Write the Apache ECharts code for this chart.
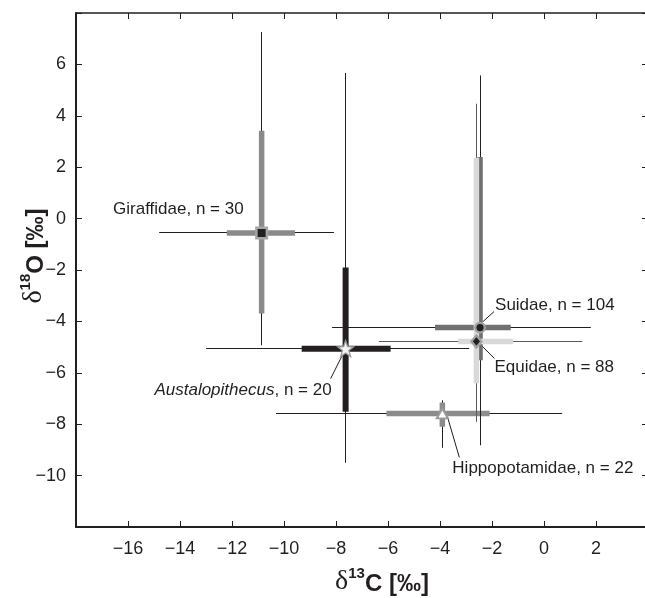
<!DOCTYPE html>
<html>
<head>
<meta charset="utf-8">
<script src="https://cdn.jsdelivr.net/npm/echarts@6/dist/echarts.min.js"></script>
<style>
html,body{margin:0;padding:0;background:#fff;overflow:hidden;}
#chart{width:645px;height:598px;}
</style>
</head>
<body>
<div id="chart"></div>
<script>
// ---------- data ----------
const taxa = ['Giraffidae', 'Austalopithecus', 'Suidae', 'Equidae', 'Hippopotamidae'];
const nCount = [30, 20, 104, 88, 22];
const meanC = [-10.86, -7.63, -2.46, -2.60, -3.91];
const meanO = [-0.56, -5.06, -4.24, -4.78, -7.58];
// thick bars (inner spread)
const spreadCLow  = [-12.20, -9.32, -4.19, -3.30, -6.06];
const spreadCHigh = [-9.58, -5.90, -1.28, -1.19, -2.09];
const spreadOLow  = [-3.69, -7.52, -5.51, -6.41, -8.10];
const spreadOHigh = [3.42, -1.90, 2.40, 2.37, -7.16];
// thin lines (full range)
const rangeCLow  = [-14.80, -13.00, -8.15, -6.35, -10.31];
const rangeCHigh = [-8.08, -2.88, 1.80, 1.47, 0.70];
const rangeOLow  = [-4.93, -9.50, -8.82, -7.91, -8.92];
const rangeOHigh = [7.26, 5.67, 5.57, 4.47, -7.07];
const xTicks = [-16, -14, -12, -10, -8, -6, -4, -2, 0, 2];
const yTicks = [-10, -8, -6, -4, -2, 0, 2, 4, 6];

// ---------- styles ----------
const FONT = "'Liberation Sans', Arial, Helvetica, sans-serif";
const INK = '#231f20';
const thickColor = ['#8a8a8a', '#231f20', '#707070', '#d9d9d9', '#8c8c8c'];
const thinColor  = ['#231f20', '#231f20', '#231f20', '#5a5a5a', '#231f20'];
const thickWidth = [5.5, 6, 5.5, 5.5, 5.5];
const drawOrder = [0, 4, 1, 2, 3];
// label placement relative to marker (pixels): text anchor, align, leader start/end
const labelStyle = [
  {dx: -18, dy: -24, align: 'right', lead: null},
  {dx: -14, dy: 42, align: 'right', lead: [[-3, 6], [-15, 30]]},
  {dx: 15, dy: -22, align: 'left', lead: [[3, -6], [14, -16]]},
  {dx: 18, dy: 26, align: 'left', lead: [[6, 5], [18, 17]]},
  {dx: 10, dy: 55, align: 'left', lead: [[5, 3], [17, 44]]}
];
const markerSymbol = ['rect', 'path://M0,-10 L2.35,-3.24 L9.51,-3.09 L3.8,1.24 L5.88,8.09 L0,4 L-5.88,8.09 L-3.8,1.24 L-9.51,-3.09 L-2.35,-3.24 Z', 'circle', 'diamond', 'triangle'];
const markerSize = [10.5, 16, 9.5, [10, 12], [11, 10]];
const markerFill = ['#231f20', '#f4f4f4', '#231f20', '#231f20', '#ffffff'];
const markerBorder = ['#a5a5a5', '#9a9a9a', '#a0a0a0', '#a0a0a0', '#9a9a9a'];
const markerBorderW = [2.5, 1.3, 2.3, 2.3, 2];

function fmt(v) { return v < 0 ? '\u2212' + Math.abs(v) : String(v); }
function crisp(v) { return Math.round(v - 0.5) + 0.5; }

const series = [];
drawOrder.forEach(function (i) {
  series.push({
    type: 'custom',
    name: taxa[i],
    coordinateSystem: 'cartesian2d',
    silent: true,
    clip: false,
    data: [[meanC[i], meanO[i], rangeCLow[i], rangeCHigh[i], rangeOLow[i], rangeOHigh[i],
            spreadCLow[i], spreadCHigh[i], spreadOLow[i], spreadOHigh[i]]],
    encode: {x: [0, 2, 3], y: [1, 4, 5]},
    renderItem: function (params, api) {
      const mc = api.value(0), mo = api.value(1);
      const c = api.coord([mc, mo]);
      const rl = api.coord([api.value(2), mo]), rh = api.coord([api.value(3), mo]);
      const rb = api.coord([mc, api.value(4)]), rt = api.coord([mc, api.value(5)]);
      const sl = api.coord([api.value(6), mo]), sh = api.coord([api.value(7), mo]);
      const sb = api.coord([mc, api.value(8)]), st = api.coord([mc, api.value(9)]);
      const thin = {stroke: thinColor[i], lineWidth: 1};
      const thick = {stroke: thickColor[i], lineWidth: thickWidth[i], lineCap: 'butt'};
      const ls = labelStyle[i];
      const hy = crisp(c[1]), vx = crisp(c[0]);
      const children = [
        {type: 'line', shape: {x1: rl[0], y1: hy, x2: rh[0], y2: hy}, style: thin},
        {type: 'line', shape: {x1: vx, y1: rb[1], x2: vx, y2: rt[1]}, style: thin},
        {type: 'line', shape: {x1: sl[0], y1: sl[1], x2: sh[0], y2: sh[1]}, style: thick},
        {type: 'line', shape: {x1: sb[0], y1: sb[1], x2: st[0], y2: st[1]}, style: thick}
      ];
      const nameTxt = i === 1 ? '{it|' + taxa[i] + '}, n = ' + nCount[i] : taxa[i] + ', n = ' + nCount[i];
      children.push({
        type: 'text', x: c[0] + ls.dx, y: c[1] + ls.dy,
        style: {text: nameTxt, fill: INK, fontFamily: FONT, fontSize: 17, align: ls.align, verticalAlign: 'middle',
                rich: {it: {fontStyle: 'italic', fontFamily: FONT, fontSize: 17, fill: INK}}}
      });
      if (ls.lead) {
        children.push({type: 'line', shape: {x1: c[0] + ls.lead[0][0], y1: c[1] + ls.lead[0][1], x2: c[0] + ls.lead[1][0], y2: c[1] + ls.lead[1][1]},
                       style: {stroke: INK, lineWidth: 1}});
      }
      return {type: 'group', children: children};
    }
  });
});
for (let i = 0; i < taxa.length; i++) {
  series.push({
    type: 'scatter', name: taxa[i] + ' mean', silent: true, z: 5,
    data: [[meanC[i], meanO[i]]],
    symbol: markerSymbol[i], symbolSize: markerSize[i],
    itemStyle: {color: markerFill[i], borderColor: markerBorder[i], borderWidth: markerBorderW[i], opacity: 1}
  });
}

const axisLineStyle = {color: INK, width: 2};
const titleRich = {
  d: {fontFamily: "'Liberation Serif', 'Times New Roman', serif", fontSize: 28, fill: INK, lineHeight: 30, verticalAlign: 'bottom'},
  s: {fontFamily: FONT, fontSize: 15, fontWeight: 'bold', fill: INK, lineHeight: 30, verticalAlign: 'top'},
  b: {fontFamily: FONT, fontSize: 24, fontWeight: 'bold', fill: INK, lineHeight: 30, verticalAlign: 'bottom'}
};
const chart = echarts.init(document.getElementById('chart'), null, {renderer: 'canvas'});
chart.setOption({
  animation: false,
  backgroundColor: '#ffffff',
  grid: {left: 76, top: 13, width: 572, height: 514, containLabel: false, outerBoundsMode: 'none'},
  xAxis: [
    {type: 'value', min: -18, max: 4, interval: 2, position: 'bottom',
     axisLine: {show: true, onZero: false, lineStyle: axisLineStyle},
     axisTick: {show: true, inside: true, length: 6, lineStyle: {color: INK, width: 1}},
     axisLabel: {show: true, color: INK, fontFamily: FONT, fontSize: 18, margin: 13, hideOverlap: false,
                 formatter: function (v) { return xTicks.indexOf(v) >= 0 ? fmt(v) : ''; }},
     splitLine: {show: false}},
    {type: 'value', min: -18, max: 4, interval: 2, position: 'top',
     axisLine: {show: true, onZero: false, lineStyle: {color: INK, width: 1.5}},
     axisTick: {show: true, inside: true, length: 6, lineStyle: {color: INK, width: 1}},
     axisLabel: {show: false}, splitLine: {show: false}}
  ],
  yAxis: [
    {type: 'value', min: -12, max: 8, interval: 2, position: 'left',
     axisLine: {show: true, onZero: false, lineStyle: axisLineStyle},
     axisTick: {show: true, inside: true, length: 6, lineStyle: {color: INK, width: 1}},
     axisLabel: {show: true, color: INK, fontFamily: FONT, fontSize: 18, margin: 10, hideOverlap: false,
                 formatter: function (v) { return yTicks.indexOf(v) >= 0 ? fmt(v) : ''; }},
     splitLine: {show: false}},
    {type: 'value', min: -12, max: 8, interval: 2, position: 'right',
     axisLine: {show: true, onZero: false, lineStyle: axisLineStyle},
     axisTick: {show: true, inside: true, length: 6, lineStyle: {color: INK, width: 1}},
     axisLabel: {show: false}, splitLine: {show: false}}
  ],
  graphic: [
    {type: 'text', x: 382, y: 581, silent: true,
     style: {text: '{d|\u03b4}{s|13}{b|C [\u2030]}', align: 'center', verticalAlign: 'middle', fill: INK, rich: titleRich}},
    {type: 'text', x: 33, y: 256, rotation: Math.PI / 2, silent: true,
     style: {text: '{d|\u03b4}{s|18}{b|O [\u2030]}', align: 'center', verticalAlign: 'middle', fill: INK, rich: titleRich}}
  ],
  series: series
});
</script>
</body>
</html>
